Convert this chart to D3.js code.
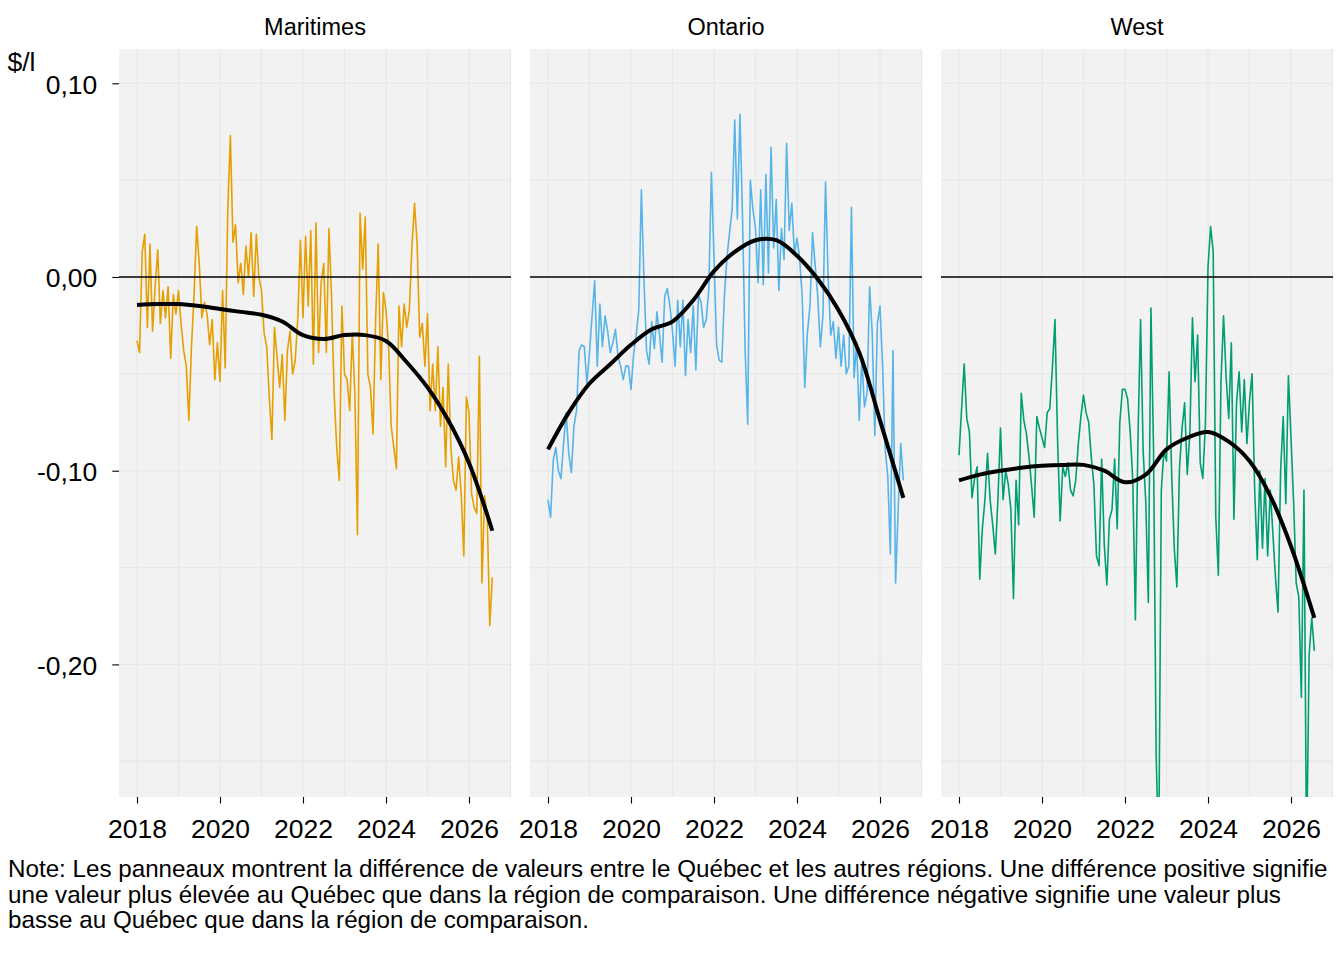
<!DOCTYPE html>
<html lang="fr">
<head>
<meta charset="UTF-8">
<title>Écart de prix Québec - régions</title>
<script src="https://cdn.jsdelivr.net/npm/d3@7"></script>
<style>
  body { margin: 0; background: #fff; }
  svg text { font-family: "Liberation Sans", Arial, sans-serif; fill: #000; }
  .axis path { display: none; }
  .axis line { stroke: #000; stroke-width: 1.1; }
</style>
</head>
<body>
<script>
// écart Québec - région, en cents par litre, 16 relevés par année à partir de 2018
var startYear = 2018, stepsPerYear = 16

var maritimes = [
  -3.3, -3.9, 1.3, 2.2, -2.6, 1.7, -2.8, -0.5, 1.4, -2.4, -0.7, -2.1, -0.5, -4.2, -0.9, -1.9,
  -0.7, -2.4, -3.8, -4.6, -7.4, -3.6, -0.9, 2.6, 0.7, -2.1, -1.3, -1.9, -3.5, -2.2, -5.3, -3.4,
  -5.4, -0.7, -4.7, 3.5, 7.3, 1.8, 2.7, -0.3, 0.7, -0.9, 1.6, 0.0, 2.3, -1.0, 2.2, 0.0,
  -0.7, -2.9, -3.6, -6.2, -8.4, -2.6, -4.1, -5.7, -4.0, -7.4, -3.8, -2.8, -5.0, -4.3, -2.1, 1.9,
  -2.1, 2.1, -1.5, 2.4, -4.5, 2.8, -3.9, -0.3, 0.7, -3.9, 2.5, -1.0, -6.0, -8.8, -10.5, -1.5,
  -5.0, -5.3, -6.9, -2.9, -6.0, -13.3, 3.3, 0.4, 3.1, -5.0, -5.7, -8.1, -2.2, 1.7, -5.3, -0.8,
  -1.7, -3.6, -7.7, -8.8, -9.9, -1.5, -3.6, -1.4, -2.6, -1.7, 1.6, 3.8, 1.7, -3.1, -2.4, -4.6,
  -1.9, -6.9, -4.5, -6.9, -3.6, -7.7, -5.7, -9.8, -4.5, -8.8, -10.5, -11.0, -9.3, -11.2, -14.4, -6.2,
  -7.0, -11.2, -11.9, -12.2, -4.1, -15.8, -11.3, -12.2, -18.0, -15.5
]
var ontario = [
  -11.5, -12.4, -9.5, -8.8, -10.0, -10.4, -8.6, -7.0, -9.1, -10.1, -7.7, -6.9, -3.8, -3.5, -3.6, -5.5,
  -3.9, -2.0, -0.2, -4.6, -1.4, -3.6, -2.0, -2.8, -3.9, -3.4, -2.7, -4.1, -4.6, -5.3, -4.6, -4.6,
  -5.8, -4.0, -3.0, -1.7, 4.5, -0.2, -3.8, -4.5, -2.3, -3.7, -1.8, -3.0, -4.4, -1.0, -0.6, -1.5,
  -2.8, -4.6, -1.2, -3.6, -1.2, -5.1, -2.2, -3.9, -1.5, -4.8, -0.9, -1.3, -2.6, -2.2, -0.6, 5.4,
  1.0, -3.5, -4.3, -4.4, -1.0, 1.0, 2.3, 3.5, 8.1, 3.0, 8.4, 3.1, -3.8, -7.6, 5.0, 3.5,
  2.5, -0.3, 4.5, -0.4, 5.3, 0.2, 6.7, 1.5, 4.0, -0.7, 2.5, 0.9, 6.9, 2.4, 3.8, 1.2,
  2.0, 1.0, -1.0, -5.7, -2.9, -1.5, 2.3, 0.6, -1.0, -3.6, -2.0, 4.9, 0.0, -3.0, -2.3, -4.2,
  -2.6, -4.6, -3.0, -5.0, -4.6, 3.6, -5.2, -3.4, -7.4, -4.2, -6.7, -6.0, -0.5, -2.9, -8.2, -2.4,
  -1.5, -4.6, -8.9, -10.3, -14.3, -3.8, -15.8, -12.0, -8.6, -10.5
]
var west = [
  -9.2, -6.8, -4.5, -7.3, -8.0, -11.4, -10.4, -9.8, -15.6, -13.0, -11.5, -9.1, -11.5, -12.8, -14.3, -11.5,
  -7.8, -11.5, -10.0, -10.7, -12.0, -16.6, -10.5, -12.8, -6.0, -7.4, -8.1, -9.3, -10.8, -12.4, -7.2, -7.8,
  -8.3, -8.8, -7.0, -6.8, -4.7, -2.2, -8.4, -12.6, -9.8, -10.3, -9.6, -11.0, -11.3, -10.5, -8.6, -7.2,
  -6.1, -7.0, -7.5, -9.3, -10.7, -14.4, -14.9, -9.4, -13.8, -15.9, -12.5, -12.0, -9.4, -13.0, -7.5, -5.8,
  -5.8, -6.3, -8.0, -10.5, -17.7, -8.3, -2.2, -9.0, -11.6, -16.8, -1.6, -8.9, -24.6, -30.0, -11.0, -9.0,
  -9.5, -4.9, -10.2, -14.0, -16.0, -9.9, -7.8, -6.5, -10.2, -8.1, -2.1, -5.4, -3.0, -9.6, -10.4, -7.6,
  0.5, 2.6, 1.3, -12.4, -15.4, -5.4, -2.0, -5.2, -7.3, -3.4, -12.5, -6.5, -4.9, -8.0, -5.3, -8.6,
  -6.4, -5.0, -11.0, -14.6, -10.0, -14.0, -10.4, -14.4, -11.0, -13.2, -15.5, -17.3, -10.0, -7.2, -11.7, -5.1,
  -8.3, -11.6, -15.8, -16.5, -21.7, -11.0, -30.0, -19.5, -17.6, -19.3
]

// courbe lissée, en cents
var smoothYears = [2018, 2018.5, 2019, 2019.5, 2020, 2020.5, 2021, 2021.5, 2022, 2022.5,
                   2023, 2023.5, 2024, 2024.5, 2025, 2025.5, 2026, 2026.5625]
var maritimesSmooth = [-1.45, -1.4, -1.4, -1.5, -1.65, -1.8, -1.95, -2.3, -3.0, -3.2,
                       -3.0, -3.0, -3.3, -4.4, -5.7, -7.4, -9.6, -13.1]
var ontarioSmooth = [-8.9, -7.0, -5.5, -4.5, -3.5, -2.7, -2.3, -1.2, 0.3, 1.3,
                     1.9, 1.9, 1.1, -0.1, -1.7, -3.9, -7.4, -11.4]
var westSmooth = [-10.5, -10.2, -10.0, -9.85, -9.75, -9.7, -9.7, -10.0, -10.6, -10.2,
                  -8.9, -8.3, -8.0, -8.5, -9.5, -11.3, -13.9, -17.6]

var panelNames = ['Maritimes', 'Ontario', 'West']
var panelColors = ['#E69F00', '#56B4E9', '#009E73']
var xTicks = [2018, 2020, 2022, 2024, 2026]
var yTicks = [0.10, 0, -0.10, -0.20]
var noteLines = [
  'Note: Les panneaux montrent la différence de valeurs entre le Québec et les autres régions. Une différence positive signifie',
  'une valeur plus élevée au Québec que dans la région de comparaison. Une différence négative signifie une valeur plus',
  'basse au Québec que dans la région de comparaison.'
]

var width = 1344, height = 960
var svg = d3.select('body').append('svg')
    .attr('width', width)
    .attr('height', height)

// position des panneaux
var panel = { top: 49, bottom: 797, width: 392, lefts: [119, 530, 941] }
var ph = panel.bottom - panel.top

var x = d3.scaleLinear().domain([2018, 2026]).range([18, 350])
var y = d3.scaleLinear().domain([-0.2, 0.1]).range([615.4, 34.3])

var series = [maritimes, ontario, west]
var smooths = [maritimesSmooth, ontarioSmooth, westSmooth]

var line = d3.line()
    .x(function(d) { return x(d[0]) })
    .y(function(d) { return y(d[1]) })
var smoothLine = d3.line()
    .x(function(d) { return x(d[0]) })
    .y(function(d) { return y(d[1]) })
    .curve(d3.curveCatmullRom.alpha(0.5))

var defs = svg.append('defs')

series.forEach(function(vals, p) {
    var g = svg.append('g')
        .attr('transform', 'translate(' + panel.lefts[p] + ',' + panel.top + ')')

    defs.append('clipPath').attr('id', 'clip' + p)
        .append('rect').attr('width', panel.width).attr('height', ph)

    g.append('rect')
        .attr('width', panel.width)
        .attr('height', ph)
        .attr('fill', '#f2f2f2')

    // grille (majeure et mineure)
    g.selectAll('.vgrid')
        .data(d3.range(2018, 2028))
        .enter().append('line')
        .attr('class', 'vgrid')
        .attr('x1', function(d) { return x(d) })
        .attr('x2', function(d) { return x(d) })
        .attr('y1', 0).attr('y2', ph)
        .attr('stroke', '#e8e8e8').attr('stroke-width', 1.3)
    g.selectAll('.hgrid')
        .data([0.10, 0.05, 0, -0.05, -0.10, -0.15, -0.20, -0.25])
        .enter().append('line')
        .attr('class', 'hgrid')
        .attr('x1', 0).attr('x2', panel.width)
        .attr('y1', function(d) { return y(d) })
        .attr('y2', function(d) { return y(d) })
        .attr('stroke', '#e8e8e8').attr('stroke-width', 1.3)

    var pts = vals.map(function(v, i) { return [startYear + i / stepsPerYear, v / 100] })
    g.append('path')
        .datum(pts)
        .attr('clip-path', 'url(#clip' + p + ')')
        .attr('fill', 'none')
        .attr('stroke', panelColors[p])
        .attr('stroke-width', 1.6)
        .attr('stroke-linejoin', 'round')
        .attr('d', line)

    // ligne zéro
    g.append('line')
        .attr('x1', 0).attr('x2', panel.width)
        .attr('y1', y(0)).attr('y2', y(0))
        .attr('stroke', '#000').attr('stroke-width', 1.5)

    var sm = smooths[p].map(function(v, i) { return [smoothYears[i], v / 100] })
    g.append('path')
        .datum(sm)
        .attr('fill', 'none')
        .attr('stroke', '#000')
        .attr('stroke-width', 4)
        .attr('stroke-linecap', 'butt')
        .attr('d', smoothLine)

    // axe x
    var xAxis = d3.axisBottom(x)
        .tickValues(xTicks)
        .tickFormat(d3.format('d'))
        .tickSize(6.5)
        .tickPadding(15.5)
    g.append('g')
        .attr('class', 'axis')
        .attr('transform', 'translate(0,' + ph + ')')
        .call(xAxis)
        .selectAll('text')
        .attr('font-size', '26.5px')
        .attr('font-family', '"Liberation Sans", Arial, sans-serif')

    // titre du panneau
    svg.append('text')
        .attr('x', panel.lefts[p] + panel.width / 2)
        .attr('y', 35)
        .attr('text-anchor', 'middle')
        .attr('font-size', '23.5px')
        .text(panelNames[p])

    if (p === 0) {
        var yAxis = d3.axisLeft(y)
            .tickValues(yTicks)
            .tickFormat(function(d) { return d.toFixed(2).replace('.', ',') })
            .tickSize(6.7)
            .tickPadding(15)
        g.append('g')
            .attr('class', 'axis')
            .call(yAxis)
            .selectAll('text')
            .attr('dy', '0.37em')
            .attr('font-size', '26.5px')
            .attr('font-family', '"Liberation Sans", Arial, sans-serif')
    }
})

svg.append('text')
    .attr('x', 7.5)
    .attr('y', 70.5)
    .attr('font-size', '26.5px')
    .text('$/l')

svg.selectAll('.note')
    .data(noteLines)
    .enter().append('text')
    .attr('class', 'note')
    .attr('x', 8)
    .attr('y', function(d, i) { return 876.7 + i * 25.8 })
    .attr('font-size', '24.2px')
    .text(function(d) { return d })
</script>
</body>
</html>
